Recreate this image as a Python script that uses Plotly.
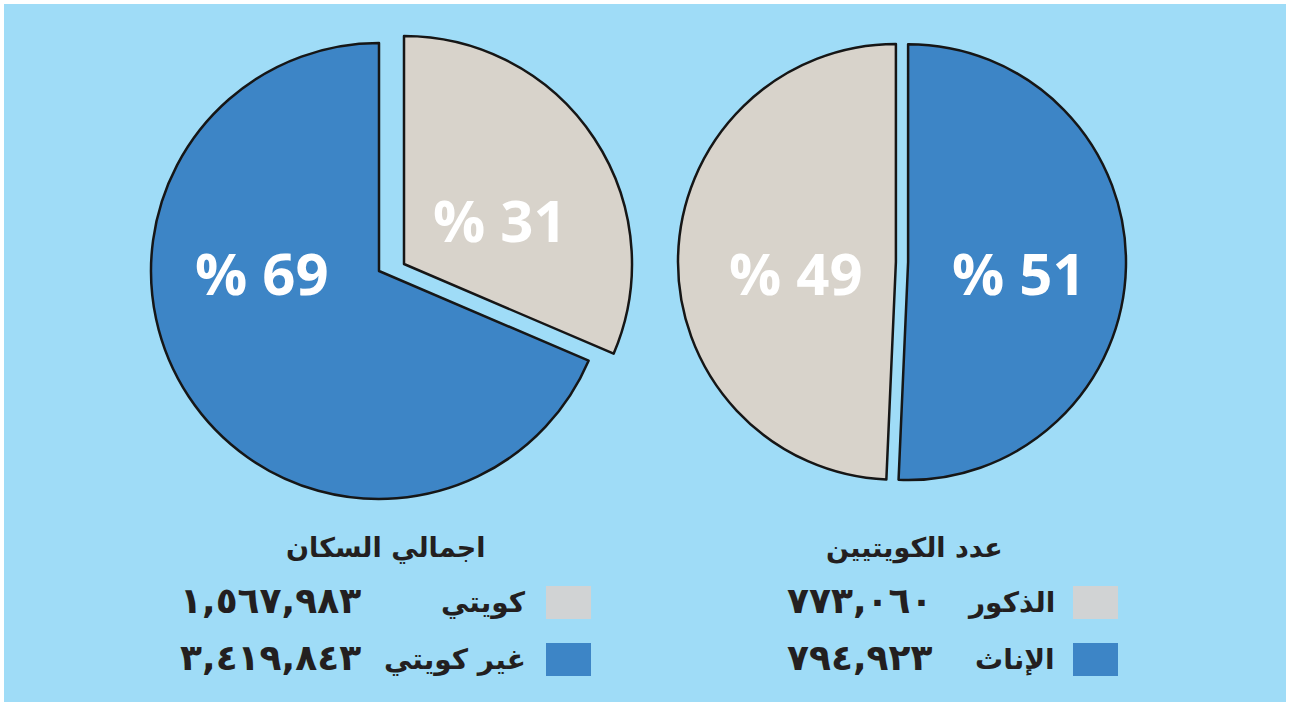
import plotly.graph_objects as go

W, H = 1291, 707

# ---- data ----
total_title = "اجمالي السكان"
total_labels = ["كويتي", "غير كويتي"]
total_values = [1567983, 3419843]

kuwaiti_title = "عدد الكويتيين"
kuwaiti_labels = ["الذكور", "الإناث"]
kuwaiti_values = [773060, 794923]

# ---- styles ----
BG = "#9fdcf7"
SLICE_COLORS = ["#d8d3cb", "#3d85c6"]
KEY_COLORS = ["#d1d3d4", "#3d85c6"]
EDGE = "#161616"
NONE = "rgba(0,0,0,0)"
AR_FONT = "DejaVu Sans"
PCT_FONT = "Open Sans"


def px(x):
    return x / W


def py(y):
    return 1 - y / H


def box(cx, cy, half):
    return dict(x=[px(cx - half), px(cx + half)], y=[py(cy + half), py(cy - half)])


def arabic_digits(n):
    s = f"{n:,}"
    return s.translate(str.maketrans("0123456789", "٠١٢٣٤٥٦٧٨٩"))


def pct(values):
    t = sum(values)
    return [round(100 * v / t) for v in values]


fig = go.Figure()

# left pie: total population; the gray (Kuwaiti) slice is drawn exploded
L_CX, L_CY, L_R = 379, 271, 228
EXPLODE = (25, -7)
for k in range(2):
    colors = [SLICE_COLORS[i] if i == k else NONE for i in range(2)]
    edges = [EDGE if i == k else NONE for i in range(2)]
    dx, dy = EXPLODE if k == 0 else (0, 0)
    fig.add_trace(go.Pie(
        labels=total_labels, values=total_values, sort=False,
        direction="clockwise", rotation=0,
        marker=dict(colors=colors, line=dict(color=edges, width=2.5)),
        textinfo="none", hoverinfo="skip", showlegend=False,
        domain=box(L_CX + dx, L_CY + dy, L_R),
    ))

# right pie: Kuwaitis by gender (gray on the left, blue on the right from 12 o'clock)
blue_share_deg = 360 * kuwaiti_values[1] / sum(kuwaiti_values)
fig.add_trace(go.Pie(
    labels=kuwaiti_labels, values=kuwaiti_values, sort=False,
    direction="clockwise", rotation=blue_share_deg, pull=[0.028, 0.028],
    marker=dict(colors=SLICE_COLORS, line=dict(color=EDGE, width=2.5)),
    textinfo="none", hoverinfo="skip", showlegend=False,
    domain=box(902, 262, 224),
))

annotations = []
shapes = [dict(type="rect", xref="paper", yref="paper",
               x0=px(4), x1=px(W - 5), y0=py(H - 5), y1=py(4),
               fillcolor=BG, line=dict(width=0), layer="below")]

# percentage labels
p_total = pct(total_values)
p_kuw = pct(kuwaiti_values)
pct_pos = [
    (p_total[1], 262, 272),
    (p_total[0], 500, 220),
    (p_kuw[0], 796, 272),
    (p_kuw[1], 1019, 272),
]
for val, x, y in pct_pos:
    annotations.append(dict(
        text=f"% {val}", x=px(x), y=py(y), xref="paper", yref="paper",
        xanchor="center", yanchor="middle", showarrow=False,
        font=dict(family=PCT_FONT, size=58, color="white", weight="bold"),
    ))

# legends
legend_blocks = [
    # title, title_x, labels, values, square_x0, label_right, number_right
    (total_title, 386, total_labels, total_values, 546, 528, 363),
    (kuwaiti_title, 914, kuwaiti_labels, kuwaiti_values, 1073, 1057, 935),
]
row_y = [602, 659]
for title, tx, labels, values, sq_x0, lab_r, num_r in legend_blocks:
    annotations.append(dict(
        text=f"<b>{title}</b>", x=px(tx), y=py(548), xref="paper", yref="paper",
        xanchor="center", yanchor="middle", showarrow=False,
        font=dict(family=AR_FONT, size=27, color="#231f20"),
    ))
    for i, (lab, v) in enumerate(zip(labels, values)):
        yc = row_y[i]
        shapes.append(dict(
            type="rect", xref="paper", yref="paper",
            x0=px(sq_x0), x1=px(sq_x0 + 45), y0=py(yc + 17), y1=py(yc - 16),
            fillcolor=KEY_COLORS[i], line=dict(width=0),
        ))
        annotations.append(dict(
            text=f"<b>{lab}</b>", x=px(lab_r), y=py(yc), xref="paper", yref="paper",
            xanchor="right", yanchor="middle", showarrow=False,
            font=dict(family=AR_FONT, size=28, color="#231f20"),
        ))
        annotations.append(dict(
            text=f"<b>{arabic_digits(v)}</b>", x=px(num_r), y=py(yc - 2),
            xref="paper", yref="paper",
            xanchor="right", yanchor="middle", showarrow=False,
            font=dict(family=AR_FONT, size=36, color="#231f20"),
        ))

fig.update_layout(
    width=W, height=H,
    margin=dict(l=0, r=0, t=0, b=0),
    paper_bgcolor="white",
    annotations=annotations,
    shapes=shapes,
)

fig.write_html(
    "out.html",
    config={"displayModeBar": False},
    post_script="document.body.style.margin='0';document.body.style.overflow='hidden';",
)
